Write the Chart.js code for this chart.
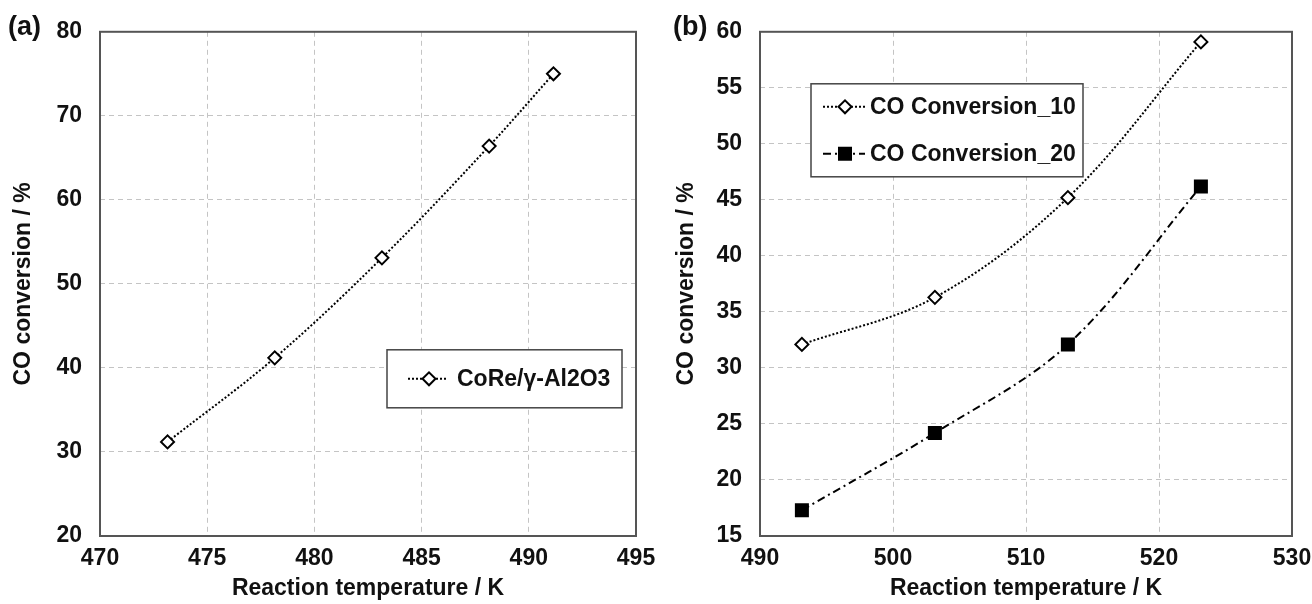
<!DOCTYPE html>
<html>
<head>
<meta charset="utf-8">
<script src="https://cdn.jsdelivr.net/npm/chart.js@4/dist/chart.umd.min.js"></script>
<style>
  html, body { margin: 0; padding: 0; background: #fff; }
  #wrap { position: relative; width: 1312px; height: 604px; }
  canvas { position: absolute; top: 0; }
  #chartA { left: 0; }
  #chartB { left: 660px; }
</style>
</head>
<body>
<div id="wrap">
  <canvas id="chartA" width="660" height="604"></canvas>
  <canvas id="chartB" width="652" height="604"></canvas>
</div>
<script>
// (a) CoRe/γ-Al2O3
const tempA = [473.15, 478.15, 483.15, 488.15, 491.15];
const convA = [31.2, 41.2, 53.1, 66.4, 75.0];

// (b) two feed conditions
const tempB = [493.15, 503.15, 513.15, 523.15];
const conv10 = [32.1, 36.3, 45.2, 59.1];
const conv20 = [17.3, 24.2, 32.1, 46.2];

const labelA = 'CoRe/γ-Al2O3';
const label10 = 'CO Conversion_10';
const label20 = 'CO Conversion_20';

const yTitle = 'CO conversion / %';
const xTitle = 'Reaction temperature / K';

const FONT = '"Liberation Sans", Arial, sans-serif';
const INK = '#111';

function toPoints(xs, ys) {
    return xs.map((x, i) => ({ x: x, y: ys[i] }));
}

function drawMarker(ctx, style, x, y, r) {
    ctx.save();
    ctx.setLineDash([]);
    ctx.lineWidth = 2;
    ctx.strokeStyle = '#000';
    ctx.beginPath();
    if (style === 'rect') {
        const s = r * Math.SQRT1_2;
        ctx.rect(x - s, y - s, 2 * s, 2 * s);
        ctx.fillStyle = '#000';
    } else {
        ctx.moveTo(x - r, y);
        ctx.lineTo(x, y - r);
        ctx.lineTo(x + r, y);
        ctx.lineTo(x, y + r);
        ctx.closePath();
        ctx.fillStyle = '#fff';
    }
    ctx.fill();
    ctx.stroke();
    ctx.restore();
}

// frame round the plot area, panel tag, and a boxed legend inside the plot
const panelDecor = {
    id: 'panelDecor',
    beforeDatasetsDraw(chart) {
        const a = chart.chartArea;
        const ctx = chart.ctx;
        ctx.save();
        ctx.strokeStyle = '#555';
        ctx.lineWidth = 2;
        ctx.strokeRect(a.left, a.top, a.right - a.left, a.bottom - a.top);
        ctx.restore();
    },
    afterDraw(chart, args, opts) {
        const ctx = chart.ctx;
        const a = chart.chartArea;
        ctx.save();
        ctx.fillStyle = INK;
        ctx.font = 'bold 27px ' + FONT;
        ctx.textBaseline = 'middle';
        ctx.fillText(opts.tag, opts.tagX, 28);

        const L = opts.legend;
        const bx = a.left + L.left, by = a.top + L.top;
        ctx.fillStyle = '#fff';
        ctx.fillRect(bx, by, L.width, L.height);
        ctx.strokeStyle = '#444';
        ctx.lineWidth = 1.5;
        ctx.strokeRect(bx, by, L.width, L.height);

        chart.data.datasets.forEach((ds, i) => {
            const ry = by + L.rows[i];
            ctx.save();
            ctx.strokeStyle = '#000';
            ctx.lineWidth = 2;
            ctx.setLineDash(ds.borderDash || []);
            ctx.beginPath();
            ctx.moveTo(bx + L.lineFrom, ry);
            ctx.lineTo(bx + L.lineTo, ry);
            ctx.stroke();
            ctx.restore();
            drawMarker(ctx, ds.pointStyle, bx + L.marker, ry, ds.pointRadius);
            ctx.fillStyle = INK;
            ctx.font = 'bold 23px ' + FONT;
            ctx.textBaseline = 'middle';
            ctx.fillText(ds.label, bx + L.text, ry + 1);
        });
        ctx.restore();
    }
};

function axisOptions(min, max, step, title, titlePad, fitSize, horizontal) {
    return {
        type: 'linear',
        min: min,
        max: max,
        ticks: {
            stepSize: step,
            color: INK,
            padding: horizontal ? 9 : 18,
            font: { family: FONT, size: 23, weight: 'bold' }
        },
        grid: {
            color: '#c4c4c4',
            lineWidth: 1,
            drawTicks: false
        },
        // v4 takes the grid dash pattern from border.dash
        border: { display: false, dash: [5, 4] },
        title: {
            display: true,
            text: title,
            color: INK,
            font: { family: FONT, size: 23, weight: 'bold' },
            padding: horizontal ? { top: 0, bottom: titlePad } : { top: titlePad, bottom: 0 }
        },
        afterFit(scale) {
            if (horizontal) {
                scale.height = fitSize;
                // edge labels may hang outside; the layout padding leaves room
                scale.paddingLeft = 0;
                scale.paddingRight = 0;
            } else {
                scale.width = fitSize;
            }
        }
    };
}

function buildChart(id, datasets, xAxis, yAxis, rightPad, decor) {
    const ctx = document.getElementById(id).getContext('2d');
    return new Chart(ctx, {
        type: 'scatter',
        data: { datasets: datasets },
        options: {
            responsive: false,
            animation: false,
            devicePixelRatio: 1,
            layout: { padding: { top: 23, right: rightPad, bottom: 0, left: 0 } },
            scales: { x: xAxis, y: yAxis },
            plugins: {
                legend: { display: false },
                tooltip: { enabled: false },
                panelDecor: decor
            }
        },
        plugins: [panelDecor]
    });
}

function seriesStyle(label, points, style, dash) {
    return {
        label: label,
        data: points,
        showLine: true,
        tension: 0.35,
        borderColor: '#000',
        borderWidth: 2,
        borderDash: dash,
        pointStyle: style,
        pointRadius: style === 'rect' ? 8.5 : 6.5,
        pointBorderWidth: 2,
        pointBorderColor: '#000',
        pointBackgroundColor: style === 'rect' ? '#000' : '#fff'
    };
}

buildChart('chartA',
    [seriesStyle(labelA, toPoints(tempA, convA), 'rectRot', [2, 2])],
    axisOptions(470, 495, 5, xTitle, 2, 68, true),
    axisOptions(20, 80, 10, yTitle, 10, 100, false),
    24,
    {
        tag: '(a)', tagX: 8,
        legend: { left: 287, top: 318, width: 235, height: 58, rows: [29],
                  lineFrom: 21, lineTo: 61, marker: 42, text: 70 }
    });

buildChart('chartB',
    [seriesStyle(label10, toPoints(tempB, conv10), 'rectRot', [2, 2]),
     seriesStyle(label20, toPoints(tempB, conv20), 'rect', [8, 4, 2, 4])],
    axisOptions(490, 530, 10, xTitle, 2, 68, true),
    axisOptions(15, 60, 5, yTitle, 13, 100, false),
    20,
    {
        tag: '(b)', tagX: 13,
        legend: { left: 51, top: 52, width: 272, height: 93, rows: [23, 70],
                  lineFrom: 12, lineTo: 54, marker: 34, text: 59 }
    });
</script>
</body>
</html>
